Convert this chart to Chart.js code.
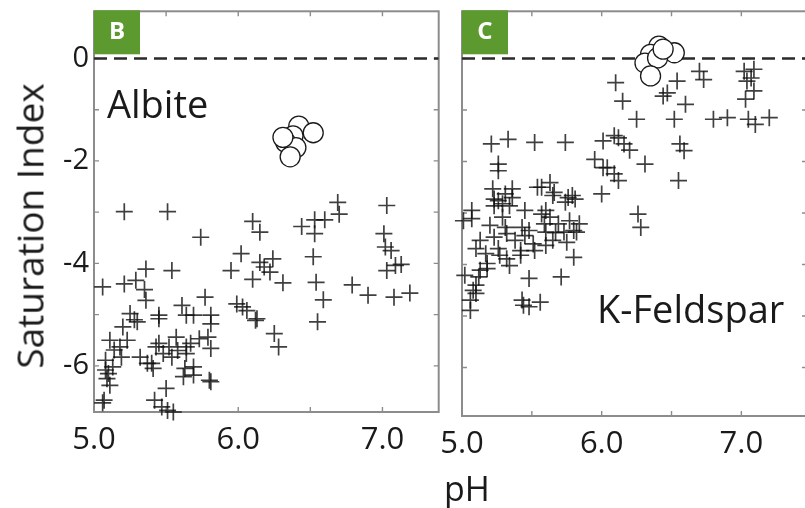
<!DOCTYPE html>
<html>
<head>
<meta charset="utf-8">
<script src="https://cdn.jsdelivr.net/npm/chart.js@4.4.1/dist/chart.umd.min.js"></script>
<style>
  body { margin: 0; background: #fff; width: 805px; height: 508px; overflow: hidden; position: relative; font-family: "Open Sans", sans-serif; }
  canvas { position: absolute; top: 0; }
  #albite { left: 0; }
  #kfeld { left: 420px; }
  .axis-title { position: absolute; white-space: nowrap; line-height: 1; color: #1a1a1a; transform: translate(-50%, -50%); }
  #ytitle { left: 29px; top: 226px; font-size: 37px; transform: translate(-50%, -50%) rotate(-90deg); }
  #xtitle { left: 467px; top: 488px; font-size: 34px; }
</style>
</head>
<body>
<canvas id="albite" width="450" height="508"></canvas>
<canvas id="kfeld" width="400" height="508"></canvas>
<div id="ytitle" class="axis-title">Saturation Index</div>
<div id="xtitle" class="axis-title">pH</div>
<script>
// tick positions and labels
const xTickValues = [5.0, 5.5, 6.0, 6.5, 7.0];
const xLabelValues = [5.0, 6.0, 7.0];
const yTickValues = [0, -1, -2, -3, -4, -5, -6];
const yLabelValues = [0, -2, -4, -6];
const equilibriumSI = 0;

// panel B - albite, samples (crosses)
const albitePH = [5.21, 5.51, 5.74, 6.10, 6.15, 6.44, 6.53, 6.60, 6.53, 6.70, 6.69, 7.03, 7.01, 7.02, 7.06, 7.03, 7.09, 7.13, 7.08, 7.19,
  6.90, 6.79, 6.59, 6.54, 6.55, 6.52, 6.24, 6.15, 6.18, 6.22, 6.02, 5.95, 6.10, 6.31, 5.99, 6.03, 6.13, 6.25, 6.28, 5.77,
  5.81, 5.64, 5.61, 5.45, 5.36, 5.54, 5.06, 5.21, 5.29, 5.35, 5.36, 5.25, 5.20, 5.11, 5.18, 5.19, 5.08, 5.10, 5.11, 5.07,
  5.43, 5.48, 5.32, 5.40, 5.54, 5.50, 5.42, 5.47, 5.55, 5.64, 5.64, 5.63, 5.69, 5.81, 5.73, 5.79, 5.81, 5.57, 5.45, 5.69,
  5.52, 5.13, 5.45, 5.81, 6.06, 6.12, 5.28, 5.30, 5.23, 5.58, 5.67, 5.08, 5.09, 5.37, 5.41, 5.62, 5.69, 5.80, 5.14, 5.51, 5.06];
const albiteSI = [-2.99, -2.99, -3.49, -3.18, -3.39, -3.28, -3.15, -3.15, -3.42, -3.04, -2.81, -2.87, -3.42, -3.68, -3.75, -4.14, -4.04, -4.02, -4.66, -4.58,
  -4.62, -4.42, -4.71, -4.37, -5.14, -3.87, -3.91, -3.98, -4.07, -4.17, -3.81, -4.14, -4.31, -4.38, -4.79, -4.85, -5.08, -5.37, -5.63, -4.66,
  -5.01, -5.01, -4.82, -5.08, -4.11, -4.14, -4.46, -4.40, -4.33, -4.51, -4.72, -4.98, -5.24, -5.50, -5.63, -5.83, -5.89, -6.15, -6.38, -6.67,
  -5.63, -5.76, -5.83, -5.95, -5.83, -6.44, -6.67, -6.80, -6.90, -5.63, -5.76, -6.05, -6.18, -6.31, -5.47, -5.44, -5.66, -5.44, -5.56, -5.01,
  -5.63, -6.02, -5.01, -5.18, -4.92, -5.11, -5.10, -5.14, -5.50, -5.70, -5.56, -6.08, -6.25, -5.95, -6.05, -6.21, -6.02, -6.28, -5.69, -6.87, -6.72];
// panel B - albite, open circles
const albiteCirclePH = [6.42, 6.38, 6.52, 6.33, 6.40, 6.31, 6.36];
const albiteCircleSI = [-1.32, -1.51, -1.45, -1.64, -1.74, -1.54, -1.92];

// panel C - K-feldspar, samples (crosses)
const kfeldPH = [6.10, 6.15, 6.25, 6.52, 6.54, 6.47, 6.44, 6.60, 6.70, 6.73, 7.02, 7.09, 7.07, 7.04, 7.09, 7.03, 6.80, 6.90, 7.05, 7.10,
  7.20, 6.56, 6.59, 6.55, 6.26, 6.28, 5.21, 5.33, 5.52, 5.74, 6.01, 6.09, 6.12, 6.16, 6.20, 6.31, 5.95, 6.01, 6.04, 6.09,
  6.12, 6.00, 5.26, 5.26, 5.22, 5.31, 5.36, 5.26, 5.29, 5.54, 5.63, 5.65, 5.66, 5.76, 5.81, 5.79, 5.74, 5.57, 5.07, 5.45,
  5.60, 5.36, 5.23, 5.80, 5.48, 5.71, 5.43, 5.44, 5.56, 5.48, 5.06, 5.10, 5.10, 5.12, 5.13, 5.18, 5.17, 5.10, 5.07, 5.23,
  5.26, 5.32, 5.42, 5.45, 5.48, 5.51, 5.60, 5.65, 5.77, 5.80, 5.84, 5.69, 5.63, 5.29, 5.31, 5.43, 5.23, 5.34, 5.57, 5.59,
  5.01, 5.08, 5.18, 5.42, 5.32, 5.73, 5.75, 5.82, 5.13, 5.20, 5.38, 5.52, 5.60, 5.67, 5.27, 5.34, 5.02, 5.06];
const kfeldSI = [-0.47, -0.83, -1.18, -1.18, -0.44, -0.67, -0.73, -0.89, -0.25, -0.41, -0.25, -0.21, -0.38, -0.44, -0.63, -0.79, -1.18, -1.15, -1.18, -1.28,
  -1.15, -1.66, -1.79, -2.37, -3.02, -3.28, -1.66, -1.57, -1.63, -1.63, -1.60, -1.50, -1.54, -1.66, -1.78, -2.05, -1.96, -2.12, -2.12, -2.24,
  -2.37, -2.63, -2.05, -2.18, -2.53, -2.63, -2.70, -2.76, -2.82, -2.50, -2.41, -2.66, -2.60, -2.70, -2.73, -2.66, -2.79, -2.50, -2.95, -2.95,
  -2.95, -2.53, -2.73, -3.86, -4.27, -4.24, -4.69, -4.79, -4.73, -4.82, -4.89, -4.56, -4.40, -4.24, -4.11, -3.98, -3.79, -3.69, -3.11, -3.47,
  -3.69, -3.89, -3.73, -3.44, -3.34, -3.60, -3.37, -3.53, -3.15, -3.34, -3.21, -3.21, -3.08, -3.08, -3.28, -3.28, -2.86, -2.86, -3.02, -3.21,
  -3.15, -4.50, -4.08, -3.82, -3.40, -3.37, -3.57, -3.37, -3.53, -3.24, -3.53, -3.73, -3.63, -3.38, -3.82, -4.02, -4.21, -4.69];
// panel C - K-feldspar, open circles
const kfeldCirclePH = [6.41, 6.35, 6.52, 6.31, 6.40, 6.44, 6.35];
const kfeldCircleSI = [0.24, 0.08, 0.11, -0.09, 0.01, 0.18, -0.34];

const toPoints = (xs, ys) => xs.map((x, i) => ({ x: x, y: ys[i] }));

// frame, inward tick marks, panel letter and mineral name
const panelDecor = {
  id: 'panelDecor',
  beforeDatasetsDraw(chart) {
    const { ctx, chartArea: a, scales: { x, y } } = chart;
    ctx.save();
    ctx.strokeStyle = '#8c8c8c';
    ctx.lineWidth = 1.4;
    ctx.beginPath();
    xTickValues.forEach(v => {
      const px = x.getPixelForValue(v);
      ctx.moveTo(px, a.top); ctx.lineTo(px, a.top + 5);
      ctx.moveTo(px, a.bottom); ctx.lineTo(px, a.bottom - 5);
    });
    yTickValues.forEach(v => {
      const py = y.getPixelForValue(v);
      ctx.moveTo(a.left, py); ctx.lineTo(a.left + 5, py);
      ctx.moveTo(a.right, py); ctx.lineTo(a.right - 5, py);
    });
    ctx.stroke();
    ctx.lineWidth = 2;
    ctx.strokeRect(a.left, a.top, a.width, a.height);
    ctx.restore();
  },
  afterDatasetsDraw(chart, args, opts) {
    const { ctx, chartArea: a } = chart;
    ctx.save();
    ctx.fillStyle = '#5c9a30';
    ctx.fillRect(a.left, a.top - 1, 46, 44);
    ctx.fillStyle = '#ffffff';
    ctx.font = 'bold 24px "Open Sans"';
    ctx.textAlign = 'center';
    ctx.textBaseline = 'middle';
    ctx.fillText(opts.letter, a.left + 23, a.top + 21);
    ctx.fillStyle = '#1a1a1a';
    ctx.font = '38px "Open Sans"';
    ctx.textAlign = 'left';
    ctx.textBaseline = 'alphabetic';
    ctx.fillText(opts.name, opts.nameX, opts.nameY);
    ctx.restore();
  }
};

function makeChart(id, cfg) {
  return new Chart(document.getElementById(id), {
    type: 'scatter',
    data: {
      datasets: [
        {
          type: 'line',
          data: [{ x: cfg.xMin, y: equilibriumSI }, { x: cfg.xMax, y: equilibriumSI }],
          borderColor: '#2a2a2a',
          borderWidth: 2.5,
          borderDash: [13, 7],
          pointRadius: 0,
          order: 3
        },
        {
          data: toPoints(cfg.ph, cfg.si),
          pointStyle: 'cross',
          radius: 8.5,
          borderColor: 'rgba(15,15,15,0.8)',
          borderWidth: 1.7,
          clip: false,
          order: 2
        },
        {
          data: toPoints(cfg.circlePH, cfg.circleSI),
          pointStyle: 'circle',
          radius: 10,
          backgroundColor: '#ffffff',
          borderColor: '#1a1a1a',
          borderWidth: 1.3,
          clip: false,
          order: 1
        }
      ]
    },
    options: {
      responsive: false,
      animation: false,
      devicePixelRatio: 1,
      layout: { padding: cfg.padding },
      plugins: {
        legend: { display: false },
        tooltip: { enabled: false },
        panelDecor: { letter: cfg.letter, name: cfg.name, nameX: cfg.nameX, nameY: cfg.nameY }
      },
      scales: {
        x: {
          type: 'linear',
          min: cfg.xMin,
          max: cfg.xMax,
          afterBuildTicks: s => { s.ticks = xTickValues.map(v => ({ value: v })); },
          afterFit: s => { s.height = cfg.xAxisHeight; },
          grid: { display: false, drawTicks: false },
          border: { display: false },
          ticks: {
            autoSkip: false,
            maxRotation: 0,
            padding: 10,
            color: '#1a1a1a',
            font: { family: 'Open Sans', size: 31 },
            callback: v => xLabelValues.includes(v) ? v.toFixed(1) : ''
          }
        },
        y: {
          type: 'linear',
          display: cfg.showY,
          min: cfg.yMin,
          max: cfg.yMax,
          afterBuildTicks: s => { s.ticks = yLabelValues.map(v => ({ value: v })); },
          afterFit: s => {
            s.width = cfg.showY ? 94 : 0;
            s.paddingTop = 0;
            s.paddingBottom = 0;
          },
          grid: { display: false, drawTicks: false },
          border: { display: false },
          ticks: {
            padding: 5,
            color: '#1a1a1a',
            font: { family: 'Open Sans', size: 29 },
            callback: v => v === 0 ? '0' : '-' + Math.abs(v)
          }
        }
      }
    },
    plugins: [panelDecor]
  });
}

makeChart('albite', {
  ph: albitePH, si: albiteSI, circlePH: albiteCirclePH, circleSI: albiteCircleSI,
  xMin: 5.0, xMax: 7.39, yMin: -6.9, yMax: 0.92,
  padding: { left: 0, top: 10, right: 11, bottom: 0 },
  xAxisHeight: 96, showY: true,
  letter: 'B', name: 'Albite', nameX: 107, nameY: 118
});

makeChart('kfeld', {
  ph: kfeldPH, si: kfeldSI, circlePH: kfeldCirclePH, circleSI: kfeldCircleSI,
  xMin: 5.0, xMax: 7.47, yMin: -6.94, yMax: 0.915,
  padding: { left: 42, top: 10, right: 13, bottom: 0 },
  xAxisHeight: 92, showY: false,
  letter: 'C', name: 'K-Feldspar', nameX: 177, nameY: 323
});
</script>
</body>
</html>
